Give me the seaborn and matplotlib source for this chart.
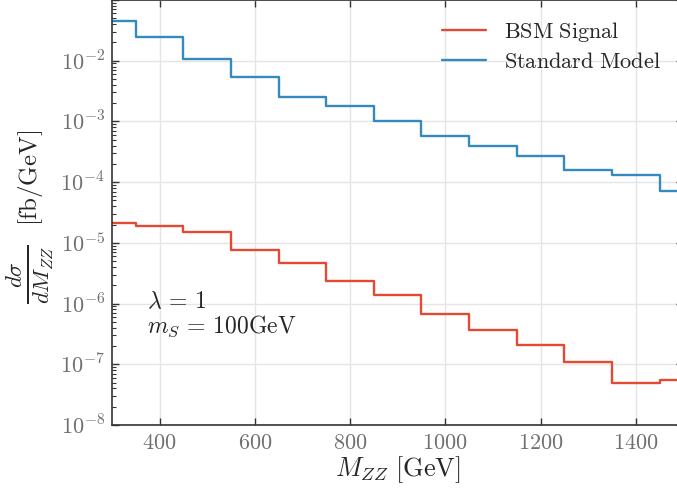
import numpy as np
import pandas as pd
import seaborn as sns
from matplotlib import pyplot as plt
from matplotlib.ticker import FuncFormatter, LogLocator, NullFormatter

# bin centres (GeV) and differential cross sections (fb/GeV)
m_zz = [300, 400, 500, 600, 700, 800, 900, 1000, 1100, 1200, 1300, 1400, 1500]
sm = [4.56e-2, 2.48e-2, 1.07e-2, 5.3e-3, 2.55e-3, 1.81e-3, 1.03e-3,
      5.67e-4, 3.9e-4, 2.72e-4, 1.6e-4, 1.31e-4, 7.2e-5]
bsm = [2.14e-5, 1.91e-5, 1.49e-5, 7.5e-6, 4.65e-6, 2.38e-6, 1.4e-6,
       6.8e-7, 3.7e-7, 2.04e-7, 1.11e-7, 4.83e-8, 5.5e-8]
labels = [r'$\mathrm{BSM\ Signal}$', r'$\mathrm{Standard\ Model}$']

df = pd.DataFrame({
    'mzz': m_zz * 2,
    'xs': bsm + sm,
    'series': [labels[0]] * len(bsm) + [labels[1]] * len(sm),
})

sns.set_theme(style='whitegrid')
plt.rcParams['mathtext.fontset'] = 'cm'
plt.rcParams['font.family'] = ['DejaVu Serif']

fig = plt.figure(figsize=(6.77, 4.91), dpi=100)
ax = fig.add_axes([0.1654, 0.1344, 0.844, 0.8656])

sns.lineplot(data=df, x='mzz', y='xs', hue='series',
             palette=['#E24A33', '#348ABD'], drawstyle='steps-mid',
             linewidth=1.7, ax=ax, legend=False, errorbar=None)

ax.set_yscale('log')
ax.set_xlim(300, 1500)
ax.set_ylim(1e-8, 1e-1)

ax.set_xticks([400, 600, 800, 1000, 1200, 1400])
ax.xaxis.set_major_formatter(FuncFormatter(lambda v, p: r'$%d$' % v))
ax.yaxis.set_major_locator(LogLocator(base=10, numticks=20))
ax.yaxis.set_minor_locator(LogLocator(base=10, subs=np.arange(2, 10), numticks=20))
ax.yaxis.set_minor_formatter(NullFormatter())
ax.yaxis.set_major_formatter(FuncFormatter(
    lambda v, p: r'$10^{%d}$' % round(np.log10(v)) if round(np.log10(v)) < -1 else ''))

ax.tick_params(axis='both', which='major', direction='in', length=5, width=1,
               color='#333333', labelcolor='#707070', labelsize=16,
               top=True, right=True, left=True, bottom=True, pad=5)
ax.tick_params(axis='y', which='minor', direction='in', length=3, width=0.8,
               color='#333333', left=True, right=True)

ax.grid(True, which='major', color='#E5E5E5', linewidth=1)
ax.grid(False, which='minor')
for s in ax.spines.values():
    s.set_color('#333333')
    s.set_linewidth(1.2)

ax.set_xlabel(r'$M_{ZZ}\ [\mathrm{GeV}]$', fontsize=19, labelpad=0)
ax.set_ylabel('')

# y label: fraction and units drawn as two pieces to match sizes
fig.text(31 / 677, 1 - 178 / 491, r'$[\mathrm{fb/GeV}]$', rotation=90,
         fontsize=18, ha='center', va='center')
fig.text(30 / 677, 1 - 274 / 491, r'$\frac{d\sigma}{dM_{ZZ}}$', rotation=90,
         fontsize=23.5, ha='center', va='center')

ax.text(0.062, 0.26, r'$\lambda \,=\, 1$' + '\n' + r'$m_S \,=\, 100\mathrm{GeV}$',
        transform=ax.transAxes, fontsize=17, va='center', ha='left',
        linespacing=1.0)

handles = ax.get_lines()[:2]
ax.legend(handles, labels, loc='upper right', bbox_to_anchor=(0.995, 1.0),
          frameon=False, fontsize=16, handlelength=2.0, labelspacing=0.3)

fig.savefig('out.png', dpi=100)
